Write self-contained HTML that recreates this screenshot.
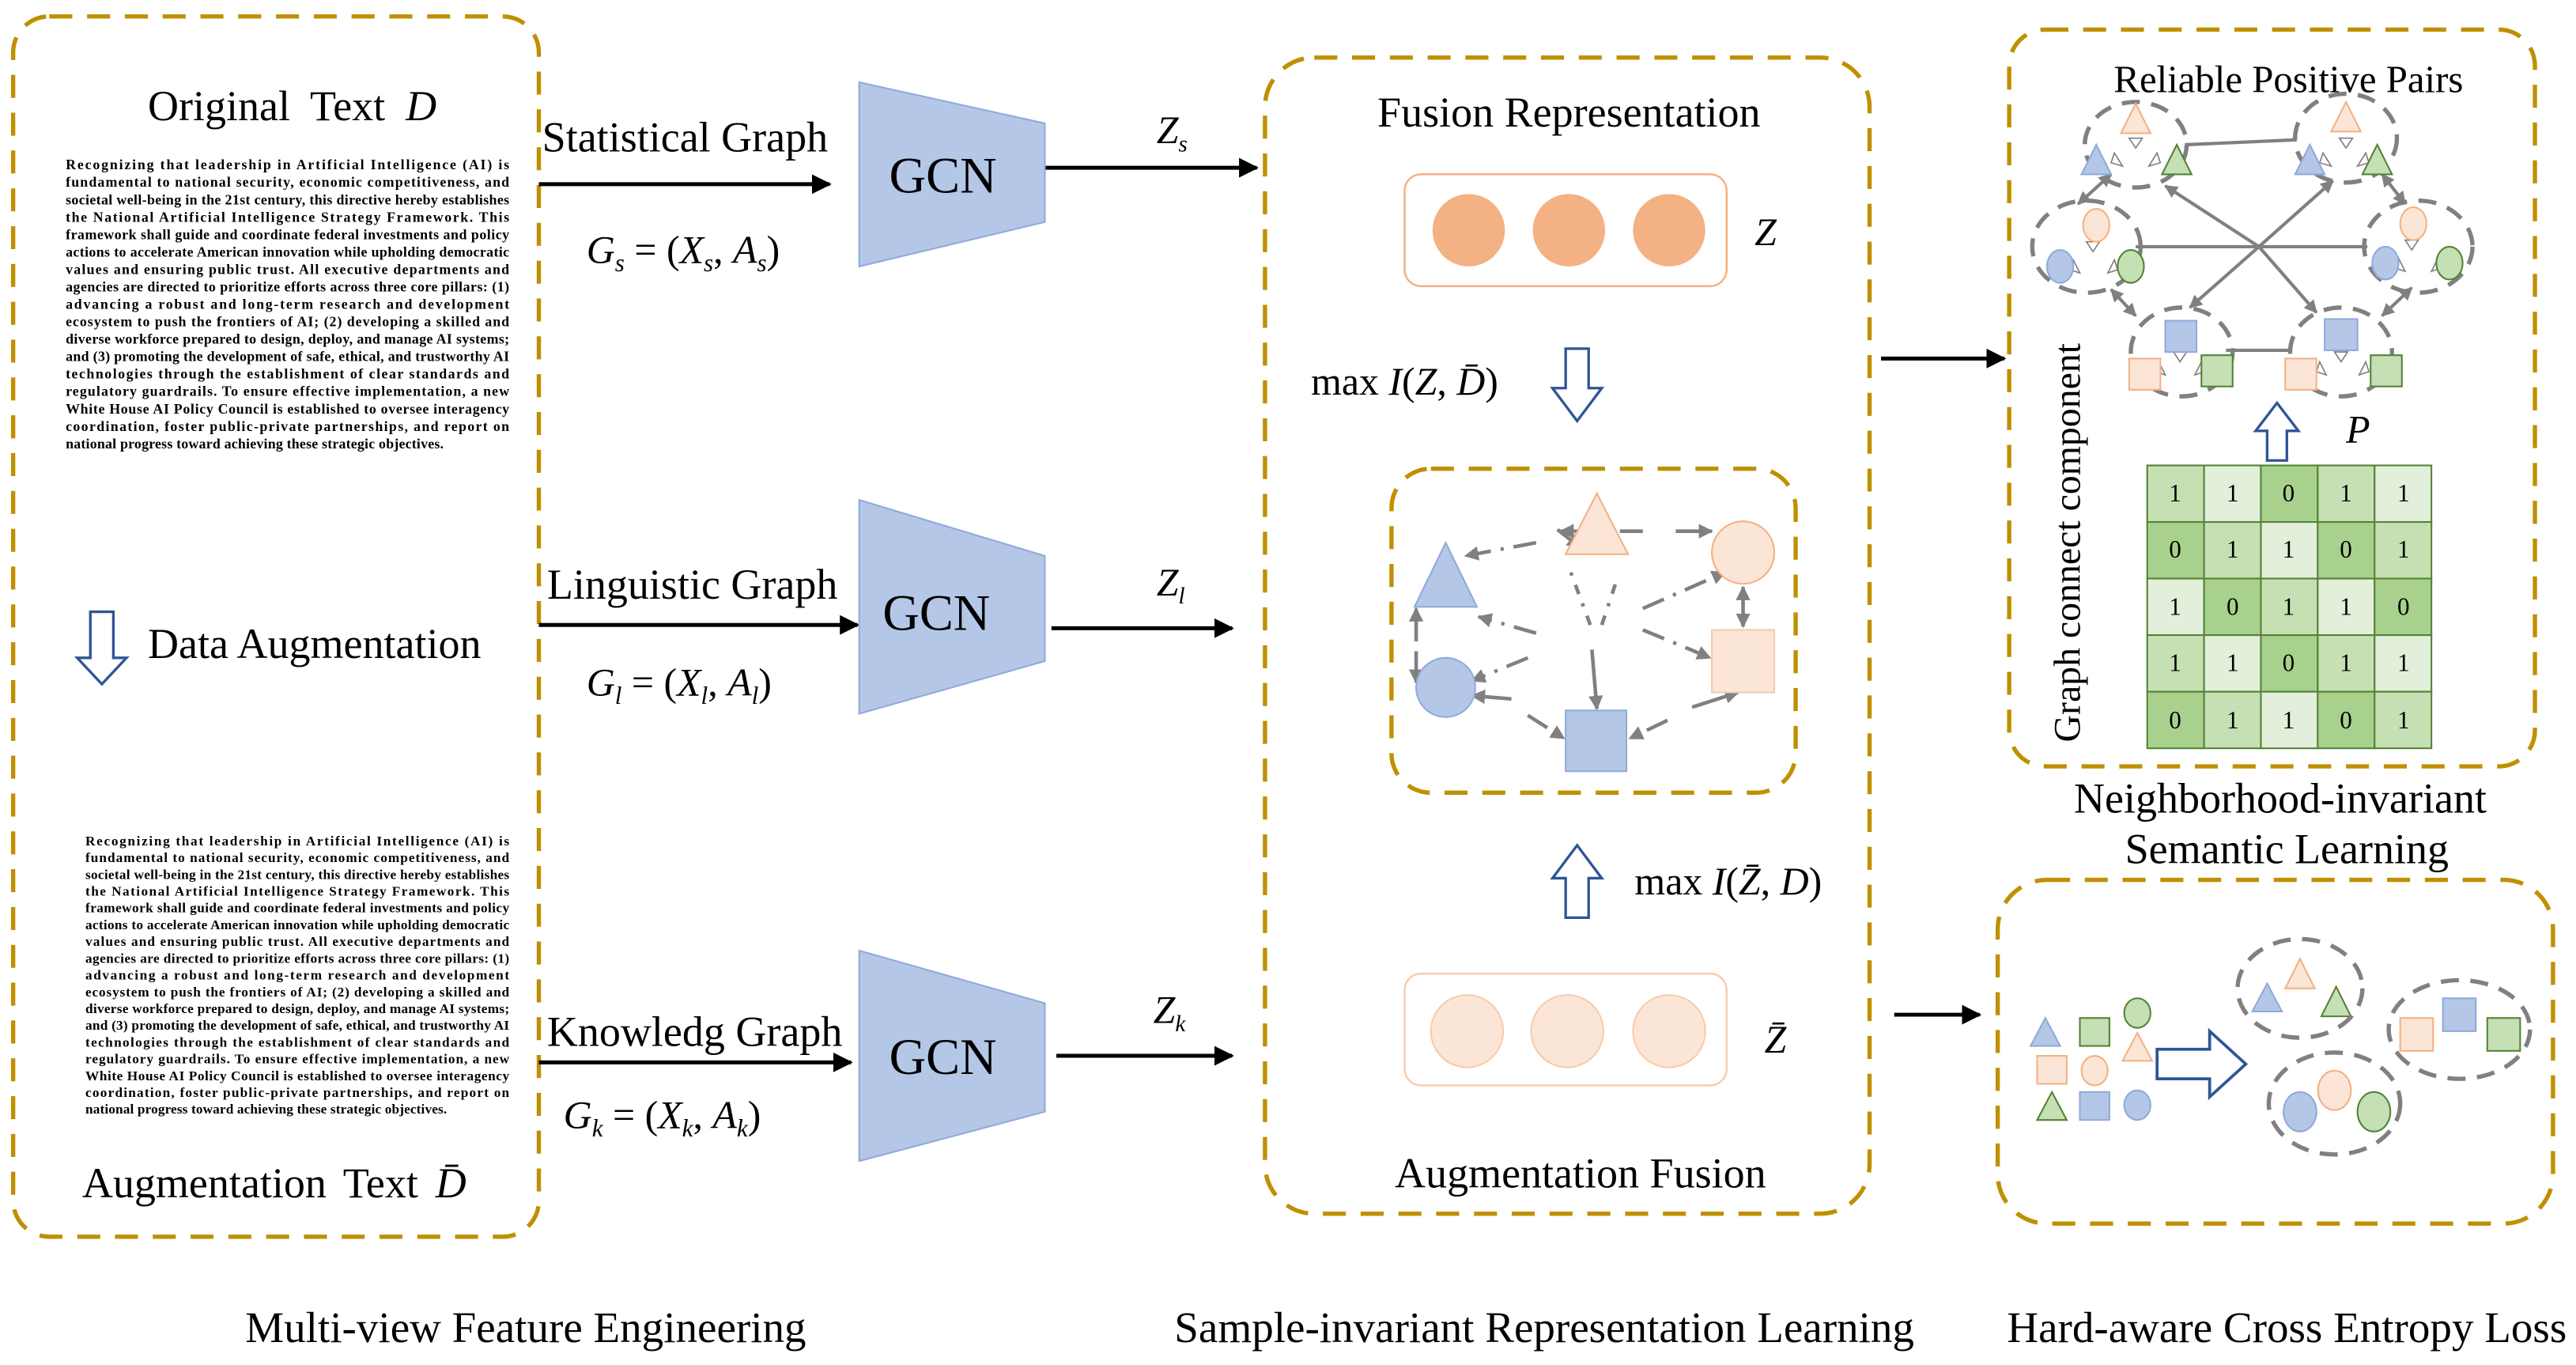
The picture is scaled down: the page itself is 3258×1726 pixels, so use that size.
<!DOCTYPE html>
<html><head><meta charset="utf-8"><style>
html,body{margin:0;padding:0;background:#fff;}
svg{display:block;}
text{font-family:"Liberation Serif",serif;}
</style></head><body>
<svg width="3258" height="1726" viewBox="0 0 1568 830" preserveAspectRatio="none" xmlns="http://www.w3.org/2000/svg">
<defs>
<marker id="ah" viewBox="0 0 10 10" refX="9" refY="5" markerWidth="5" markerHeight="5" orient="auto-start-reverse"><path d="M0,0 L10,5 L0,10 z" fill="#000"/></marker>
<marker id="gh" viewBox="0 0 10 10" refX="9" refY="5" markerWidth="4" markerHeight="4" orient="auto-start-reverse"><path d="M0,0 L10,5 L0,10 z" fill="#808080"/></marker>
</defs>
<g fill="none" stroke="#bf9000" stroke-width="2.6" stroke-dasharray="14 9">
<rect x="8" y="10" width="320" height="742" rx="22"/>
<rect x="770" y="35" width="368" height="703" rx="30"/>
<rect x="847" y="285" width="246" height="197" rx="24"/>
<rect x="1223" y="18" width="320" height="448" rx="22"/>
<rect x="1216" y="535" width="338" height="209" rx="30"/>
</g>

<!-- Left column -->
<text x="90" y="73" font-size="26" word-spacing="6">Original Text <tspan font-style="italic">D</tspan></text>
<g font-size="8.6" font-weight="bold">
<text x="40" y="103" textLength="270" lengthAdjust="spacing">Recognizing that leadership in Artificial Intelligence (AI) is</text>
<text x="40" y="113.6" textLength="270" lengthAdjust="spacing">fundamental to national security, economic competitiveness, and</text>
<text x="40" y="124.2" textLength="270" lengthAdjust="spacing">societal well-being in the 21st century, this directive hereby establishes</text>
<text x="40" y="134.8" textLength="270" lengthAdjust="spacing">the National Artificial Intelligence Strategy Framework. This</text>
<text x="40" y="145.4" textLength="270" lengthAdjust="spacing">framework shall guide and coordinate federal investments and policy</text>
<text x="40" y="156" textLength="270" lengthAdjust="spacing">actions to accelerate American innovation while upholding democratic</text>
<text x="40" y="166.6" textLength="270" lengthAdjust="spacing">values and ensuring public trust. All executive departments and</text>
<text x="40" y="177.2" textLength="270" lengthAdjust="spacing">agencies are directed to prioritize efforts across three core pillars: (1)</text>
<text x="40" y="187.8" textLength="270" lengthAdjust="spacing">advancing a robust and long-term research and development</text>
<text x="40" y="198.4" textLength="270" lengthAdjust="spacing">ecosystem to push the frontiers of AI; (2) developing a skilled and</text>
<text x="40" y="209" textLength="270" lengthAdjust="spacing">diverse workforce prepared to design, deploy, and manage AI systems;</text>
<text x="40" y="219.6" textLength="270" lengthAdjust="spacing">and (3) promoting the development of safe, ethical, and trustworthy AI</text>
<text x="40" y="230.2" textLength="270" lengthAdjust="spacing">technologies through the establishment of clear standards and</text>
<text x="40" y="240.8" textLength="270" lengthAdjust="spacing">regulatory guardrails. To ensure effective implementation, a new</text>
<text x="40" y="251.4" textLength="270" lengthAdjust="spacing">White House AI Policy Council is established to oversee interagency</text>
<text x="40" y="262" textLength="270" lengthAdjust="spacing">coordination, foster public-private partnerships, and report on</text>
<text x="40" y="272.6" textLength="230" lengthAdjust="spacing">national progress toward achieving these strategic objectives.</text>
</g>
<path d="M55,372 h14 v28 h8 l-15,16 l-15,-16 h8 z" fill="#fff" stroke="#2f5597" stroke-width="1.6"/>
<text x="90" y="400" font-size="26">Data Augmentation</text>
<g font-size="8.3" font-weight="bold">
<text x="52" y="514" textLength="258" lengthAdjust="spacing">Recognizing that leadership in Artificial Intelligence (AI) is</text>
<text x="52" y="524.2" textLength="258" lengthAdjust="spacing">fundamental to national security, economic competitiveness, and</text>
<text x="52" y="534.4" textLength="258" lengthAdjust="spacing">societal well-being in the 21st century, this directive hereby establishes</text>
<text x="52" y="544.6" textLength="258" lengthAdjust="spacing">the National Artificial Intelligence Strategy Framework. This</text>
<text x="52" y="554.8" textLength="258" lengthAdjust="spacing">framework shall guide and coordinate federal investments and policy</text>
<text x="52" y="565" textLength="258" lengthAdjust="spacing">actions to accelerate American innovation while upholding democratic</text>
<text x="52" y="575.2" textLength="258" lengthAdjust="spacing">values and ensuring public trust. All executive departments and</text>
<text x="52" y="585.4" textLength="258" lengthAdjust="spacing">agencies are directed to prioritize efforts across three core pillars: (1)</text>
<text x="52" y="595.6" textLength="258" lengthAdjust="spacing">advancing a robust and long-term research and development</text>
<text x="52" y="605.8" textLength="258" lengthAdjust="spacing">ecosystem to push the frontiers of AI; (2) developing a skilled and</text>
<text x="52" y="616" textLength="258" lengthAdjust="spacing">diverse workforce prepared to design, deploy, and manage AI systems;</text>
<text x="52" y="626.2" textLength="258" lengthAdjust="spacing">and (3) promoting the development of safe, ethical, and trustworthy AI</text>
<text x="52" y="636.4" textLength="258" lengthAdjust="spacing">technologies through the establishment of clear standards and</text>
<text x="52" y="646.6" textLength="258" lengthAdjust="spacing">regulatory guardrails. To ensure effective implementation, a new</text>
<text x="52" y="656.8" textLength="258" lengthAdjust="spacing">White House AI Policy Council is established to oversee interagency</text>
<text x="52" y="667" textLength="258" lengthAdjust="spacing">coordination, foster public-private partnerships, and report on</text>
<text x="52" y="677.2" textLength="220" lengthAdjust="spacing">national progress toward achieving these strategic objectives.</text>
</g>
<text x="50" y="728" font-size="26" word-spacing="4">Augmentation Text <tspan font-style="italic">D̄</tspan></text>

<!-- bottom labels -->
<g font-size="26.5" text-anchor="middle">
<text x="320" y="816">Multi-view Feature Engineering</text>
<text x="940" y="816">Sample-invariant Representation Learning</text>
<text x="1392" y="816">Hard-aware Cross Entropy Loss</text>
</g>

<!-- graph arrows -->
<g stroke="#000" stroke-width="2.4" marker-end="url(#ah)">
<line x1="328" y1="112" x2="505" y2="112"/>
<line x1="328" y1="380" x2="522" y2="380"/>
<line x1="328" y1="646" x2="518" y2="646"/>
<line x1="636" y1="102" x2="765" y2="102"/>
<line x1="640" y1="382" x2="750" y2="382"/>
<line x1="643" y1="642" x2="750" y2="642"/>
<line x1="1145" y1="218" x2="1220" y2="218"/>
<line x1="1153" y1="617" x2="1205" y2="617"/>
</g>
<g font-size="26">
<text x="330" y="92">Statistical Graph</text>
<text x="333" y="364">Linguistic Graph</text>
<text x="333" y="636">Knowledg Graph</text>
</g>
<g font-size="24" font-style="italic">
<text x="357" y="160">G<tspan font-size="15" dy="5">s</tspan><tspan dy="-5" font-style="normal"> = (</tspan>X<tspan font-size="15" dy="5">s</tspan><tspan dy="-5" font-style="normal">, </tspan>A<tspan font-size="15" dy="5">s</tspan><tspan dy="-5" font-style="normal">)</tspan></text>
<text x="357" y="423">G<tspan font-size="15" dy="5">l</tspan><tspan dy="-5" font-style="normal"> = (</tspan>X<tspan font-size="15" dy="5">l</tspan><tspan dy="-5" font-style="normal">, </tspan>A<tspan font-size="15" dy="5">l</tspan><tspan dy="-5" font-style="normal">)</tspan></text>
<text x="343" y="686">G<tspan font-size="15" dy="5">k</tspan><tspan dy="-5" font-style="normal"> = (</tspan>X<tspan font-size="15" dy="5">k</tspan><tspan dy="-5" font-style="normal">, </tspan>A<tspan font-size="15" dy="5">k</tspan><tspan dy="-5" font-style="normal">)</tspan></text>
<text x="704" y="87">Z<tspan font-size="14" dy="5">s</tspan></text>
<text x="704" y="362">Z<tspan font-size="14" dy="5">l</tspan></text>
<text x="702" y="622">Z<tspan font-size="14" dy="5">k</tspan></text>
</g>
<!-- GCNs -->
<g fill="#b4c7e7" stroke="#8faadc" stroke-width="1">
<polygon points="523,50 636,75 636,135 523,162"/>
<polygon points="523,304 636,338 636,402 523,434"/>
<polygon points="523,578 636,610 636,676 523,706"/>
</g>
<g font-size="31" text-anchor="middle">
<text x="574" y="117">GCN</text>
<text x="570" y="383">GCN</text>
<text x="574" y="653">GCN</text>
</g>

<!-- Middle box -->
<text x="955" y="77" font-size="26" text-anchor="middle">Fusion Representation</text>
<rect x="855" y="106" width="196" height="68" rx="10" fill="#fff" stroke="#f4b183" stroke-width="1.2"/>
<g fill="#f4b183"><circle cx="894" cy="140" r="22"/><circle cx="955" cy="140" r="22"/><circle cx="1016" cy="140" r="22"/></g>
<text x="1068" y="149" font-size="24" font-style="italic">Z</text>
<text x="798" y="240" font-size="24">max <tspan font-style="italic">I</tspan>(<tspan font-style="italic">Z</tspan>, <tspan font-style="italic">D̄</tspan>)</text>
<path d="M953,212 h14 v24 h8 l-15,20 l-15,-20 h8 z" fill="#fff" stroke="#2f5597" stroke-width="1.6"/>
<path d="M953,558 h14 v-24 h8 l-15,-20 l-15,20 h8 z" fill="#fff" stroke="#2f5597" stroke-width="1.6"/>
<text x="995" y="544" font-size="24">max <tspan font-style="italic">I</tspan>(<tspan font-style="italic">Z̄</tspan>, <tspan font-style="italic">D</tspan>)</text>
<rect x="855" y="592" width="196" height="68" rx="10" fill="#fff" stroke="#f8cbad" stroke-width="1.2"/>
<g fill="#fbe5d6" stroke="#f8cbad"><circle cx="893" cy="627" r="22"/><circle cx="954" cy="627" r="22"/><circle cx="1016" cy="627" r="22"/></g>
<text x="1074" y="640" font-size="24" font-style="italic">Z̄</text>
<text x="962" y="722" font-size="26" text-anchor="middle">Augmentation Fusion</text>

<!-- inner graph -->
<g stroke="#808080" stroke-width="2.2" fill="none" marker-end="url(#gh)">
<line x1="1000" y1="323" x2="950" y2="323" stroke-dasharray="14 6 2 6"/>
<line x1="1020" y1="323" x2="1042" y2="323"/>
<line x1="935" y1="330" x2="892" y2="338" stroke-dasharray="14 6 2 6"/>
<line x1="948" y1="322" x2="962" y2="333"/>
<line x1="935" y1="385" x2="900" y2="375" stroke-dasharray="14 6 2 6"/>
<line x1="1000" y1="370" x2="1050" y2="348" stroke-dasharray="14 6 2 6"/>
<line x1="1000" y1="383" x2="1041" y2="400" stroke-dasharray="14 6 2 6"/>
<line x1="930" y1="400" x2="896" y2="414" stroke-dasharray="14 6 2 6"/>
<line x1="920" y1="425" x2="896" y2="423"/>
<line x1="930" y1="435" x2="952" y2="449" stroke-dasharray="14 6 2 6"/>
<line x1="1015" y1="438" x2="992" y2="449" stroke-dasharray="14 6 2 6"/>
<line x1="1030" y1="430" x2="1058" y2="421"/>
<line x1="969" y1="395" x2="972" y2="431"/>
<line x1="1061" y1="357" x2="1061" y2="381" marker-start="url(#gh)"/>
<line x1="862" y1="390" x2="862" y2="370"/>
<line x1="862" y1="396" x2="862" y2="415"/>
<line x1="968" y1="380" x2="955" y2="345" stroke-dasharray="6 6 2 6" marker-end="none"/>
<line x1="975" y1="380" x2="985" y2="350" stroke-dasharray="6 6 2 6" marker-end="none"/>
</g>
<polygon points="880,330 861,369 899,369" fill="#b4c7e7" stroke="#8faadc"/>
<polygon points="972,300 953,337 991,337" fill="#fbe5d6" stroke="#f4b183"/>
<circle cx="1061" cy="336" r="19" fill="#fbe5d6" stroke="#f4b183"/>
<rect x="1042" y="383" width="38" height="38" fill="#fbe5d6" stroke="#f8cbad"/>
<circle cx="880" cy="418" r="18" fill="#b4c7e7" stroke="#8faadc"/>
<rect x="953" y="432" width="37" height="37" fill="#b4c7e7" stroke="#8faadc"/>

<!-- Right top -->
<text x="1393" y="56" font-size="23.5" text-anchor="middle">Reliable Positive Pairs</text>
<text transform="translate(1266,330) rotate(-90)" font-size="23" text-anchor="middle">Graph connect component</text>
<g stroke="#808080" stroke-width="2" fill="none">
<line x1="1330" y1="88" x2="1398" y2="85"/>
<line x1="1300" y1="150" x2="1441" y2="150"/>
<line x1="1355" y1="213" x2="1395" y2="213"/>
<line x1="1375" y1="150" x2="1318" y2="113" marker-end="url(#gh)"/>
<line x1="1375" y1="150" x2="1420" y2="110" marker-end="url(#gh)"/>
<line x1="1375" y1="150" x2="1333" y2="187" marker-end="url(#gh)"/>
<line x1="1375" y1="150" x2="1410" y2="190" marker-end="url(#gh)"/>
<line x1="1265" y1="124" x2="1285" y2="106" marker-end="url(#gh)" marker-start="url(#gh)"/>
<line x1="1450" y1="106" x2="1464" y2="124" marker-end="url(#gh)" marker-start="url(#gh)"/>
<line x1="1285" y1="176" x2="1300" y2="192" marker-end="url(#gh)" marker-start="url(#gh)"/>
<line x1="1468" y1="175" x2="1450" y2="192" marker-end="url(#gh)" marker-start="url(#gh)"/>
</g>
<g fill="none" stroke="#808080" stroke-width="2.6" stroke-dasharray="11 7">
<ellipse cx="1300" cy="88" rx="31" ry="26"/>
<ellipse cx="1428" cy="84" rx="31" ry="27"/>
<ellipse cx="1270" cy="150" rx="33" ry="28"/>
<ellipse cx="1472" cy="150" rx="33" ry="28"/>
<ellipse cx="1328" cy="214" rx="31" ry="27"/>
<ellipse cx="1425" cy="214" rx="31" ry="27"/>
</g>
<g stroke="#808080" stroke-width="0.8" fill="#fff">
<polygon points="1296,84 1304,84 1300,90"/><polygon points="1287,93 1292,101 1285,99"/><polygon points="1313,93 1308,101 1315,99"/>
<polygon points="1424,84 1432,84 1428,90"/><polygon points="1414,93 1419,101 1412,99"/><polygon points="1440,93 1435,101 1442,99"/>
<polygon points="1270,147 1278,147 1274,153"/><polygon points="1262,158 1266,166 1260,164"/><polygon points="1287,158 1283,166 1289,164"/>
<polygon points="1464,146 1472,146 1468,152"/><polygon points="1460,157 1464,165 1458,163"/><polygon points="1484,157 1480,165 1486,163"/>
<polygon points="1323,214 1331,214 1327,220"/><polygon points="1314,220 1318,228 1312,226"/><polygon points="1340,220 1336,228 1342,226"/>
<polygon points="1421,214 1429,214 1425,220"/><polygon points="1412,220 1416,228 1410,226"/><polygon points="1440,220 1436,228 1442,226"/>
</g>
<g stroke-width="1">
<polygon points="1300,63 1291,81 1309,81" fill="#fbe5d6" stroke="#f4b183"/>
<polygon points="1276,88 1267,106 1285,106" fill="#b4c7e7" stroke="#8faadc"/>
<polygon points="1325,88 1316,106 1334,106" fill="#c5e0b4" stroke="#548235"/>
<polygon points="1428,62 1419,80 1437,80" fill="#fbe5d6" stroke="#f4b183"/>
<polygon points="1406,88 1397,106 1415,106" fill="#b4c7e7" stroke="#8faadc"/>
<polygon points="1447,88 1438,106 1456,106" fill="#c5e0b4" stroke="#548235"/>
<ellipse cx="1276" cy="137" rx="8" ry="10" fill="#fbe5d6" stroke="#f4b183"/>
<ellipse cx="1254" cy="162" rx="8" ry="10" fill="#b4c7e7" stroke="#8faadc"/>
<ellipse cx="1297" cy="162" rx="8" ry="10" fill="#c5e0b4" stroke="#548235"/>
<ellipse cx="1469" cy="136" rx="8" ry="10" fill="#fbe5d6" stroke="#f4b183"/>
<ellipse cx="1452" cy="160" rx="8" ry="10" fill="#b4c7e7" stroke="#8faadc"/>
<ellipse cx="1491" cy="160" rx="8" ry="10" fill="#c5e0b4" stroke="#548235"/>
<rect x="1318" y="195" width="19" height="19" fill="#b4c7e7" stroke="#8faadc"/>
<rect x="1296" y="218" width="19" height="19" fill="#fbe5d6" stroke="#f4b183"/>
<rect x="1340" y="216" width="19" height="19" fill="#c5e0b4" stroke="#548235"/>
<rect x="1415" y="194" width="20" height="19" fill="#b4c7e7" stroke="#8faadc"/>
<rect x="1391" y="218" width="19" height="19" fill="#fbe5d6" stroke="#f4b183"/>
<rect x="1443" y="216" width="19" height="19" fill="#c5e0b4" stroke="#548235"/>
</g>
<path d="M1380,280 h12 v-18 h7 l-13,-17 l-13,17 h7 z" fill="#fff" stroke="#2f5597" stroke-width="1.6"/>
<text x="1428" y="269" font-size="24" font-style="italic">P</text>
<!-- matrix -->
<g stroke="#548235" stroke-width="1">
<rect x="1307" y="283" width="34.6" height="34.4" fill="#c6e0b4"/><rect x="1341.6" y="283" width="34.6" height="34.4" fill="#e2efda"/><rect x="1376.2" y="283" width="34.6" height="34.4" fill="#a9d18e"/><rect x="1410.8" y="283" width="34.6" height="34.4" fill="#c6e0b4"/><rect x="1445.4" y="283" width="34.6" height="34.4" fill="#e2efda"/>
<rect x="1307" y="317.4" width="34.6" height="34.4" fill="#a9d18e"/><rect x="1341.6" y="317.4" width="34.6" height="34.4" fill="#c6e0b4"/><rect x="1376.2" y="317.4" width="34.6" height="34.4" fill="#e2efda"/><rect x="1410.8" y="317.4" width="34.6" height="34.4" fill="#a9d18e"/><rect x="1445.4" y="317.4" width="34.6" height="34.4" fill="#c6e0b4"/>
<rect x="1307" y="351.8" width="34.6" height="34.4" fill="#e2efda"/><rect x="1341.6" y="351.8" width="34.6" height="34.4" fill="#a9d18e"/><rect x="1376.2" y="351.8" width="34.6" height="34.4" fill="#c6e0b4"/><rect x="1410.8" y="351.8" width="34.6" height="34.4" fill="#e2efda"/><rect x="1445.4" y="351.8" width="34.6" height="34.4" fill="#a9d18e"/>
<rect x="1307" y="386.2" width="34.6" height="34.4" fill="#c6e0b4"/><rect x="1341.6" y="386.2" width="34.6" height="34.4" fill="#e2efda"/><rect x="1376.2" y="386.2" width="34.6" height="34.4" fill="#a9d18e"/><rect x="1410.8" y="386.2" width="34.6" height="34.4" fill="#c6e0b4"/><rect x="1445.4" y="386.2" width="34.6" height="34.4" fill="#e2efda"/>
<rect x="1307" y="420.6" width="34.6" height="34.4" fill="#a9d18e"/><rect x="1341.6" y="420.6" width="34.6" height="34.4" fill="#c6e0b4"/><rect x="1376.2" y="420.6" width="34.6" height="34.4" fill="#e2efda"/><rect x="1410.8" y="420.6" width="34.6" height="34.4" fill="#a9d18e"/><rect x="1445.4" y="420.6" width="34.6" height="34.4" fill="#c6e0b4"/>
</g>
<g font-size="15" text-anchor="middle" style="font-family:'Liberation Sans',sans-serif">
<text x="1324" y="305">1</text><text x="1359" y="305">1</text><text x="1393" y="305">0</text><text x="1428" y="305">1</text><text x="1463" y="305">1</text>
<text x="1324" y="339">0</text><text x="1359" y="339">1</text><text x="1393" y="339">1</text><text x="1428" y="339">0</text><text x="1463" y="339">1</text>
<text x="1324" y="374">1</text><text x="1359" y="374">0</text><text x="1393" y="374">1</text><text x="1428" y="374">1</text><text x="1463" y="374">0</text>
<text x="1324" y="408">1</text><text x="1359" y="408">1</text><text x="1393" y="408">0</text><text x="1428" y="408">1</text><text x="1463" y="408">1</text>
<text x="1324" y="443">0</text><text x="1359" y="443">1</text><text x="1393" y="443">1</text><text x="1428" y="443">0</text><text x="1463" y="443">1</text>
</g>
<text x="1388" y="494" font-size="26" text-anchor="middle">Neighborhood-invariant</text>
<text x="1392" y="525" font-size="26" text-anchor="middle">Semantic Learning</text>

<!-- Right bottom -->
<g stroke-width="1">
<polygon points="1245,619 1236,636 1254,636" fill="#b4c7e7" stroke="#8faadc"/>
<rect x="1266" y="619" width="18" height="17" fill="#c5e0b4" stroke="#548235"/>
<ellipse cx="1301" cy="616" rx="8" ry="9" fill="#c5e0b4" stroke="#548235"/>
<rect x="1240" y="642" width="18" height="17" fill="#fbe5d6" stroke="#f4b183"/>
<ellipse cx="1275" cy="651" rx="8" ry="9" fill="#fbe5d6" stroke="#f4b183"/>
<polygon points="1301,628 1292,645 1310,645" fill="#fbe5d6" stroke="#f4b183"/>
<polygon points="1249,664 1240,681 1258,681" fill="#c5e0b4" stroke="#548235"/>
<rect x="1266" y="664" width="18" height="17" fill="#b4c7e7" stroke="#8faadc"/>
<ellipse cx="1301" cy="672" rx="8" ry="9" fill="#b4c7e7" stroke="#8faadc"/>
<polygon points="1380,598 1371,615 1389,615" fill="#b4c7e7" stroke="#8faadc"/>
<polygon points="1400,583 1391,601 1409,601" fill="#fbe5d6" stroke="#f4b183"/>
<polygon points="1422,600 1413,618 1431,618" fill="#c5e0b4" stroke="#548235"/>
<rect x="1461" y="619" width="20" height="20" fill="#fbe5d6" stroke="#f4b183"/>
<rect x="1487" y="607" width="20" height="20" fill="#b4c7e7" stroke="#8faadc"/>
<rect x="1514" y="619" width="20" height="20" fill="#c5e0b4" stroke="#548235"/>
<ellipse cx="1400" cy="676" rx="10" ry="12" fill="#b4c7e7" stroke="#8faadc"/>
<ellipse cx="1421" cy="663" rx="10" ry="12" fill="#fbe5d6" stroke="#f4b183"/>
<ellipse cx="1445" cy="676" rx="10" ry="12" fill="#c5e0b4" stroke="#548235"/>
</g>
<path d="M1313,641 h32 v-11 l22,20 l-22,20 v-11 h-32 z" fill="#fff" stroke="#2f5597" stroke-width="1.8" transform="translate(0,-3)"/>
<g fill="none" stroke="#808080" stroke-width="2.6" stroke-dasharray="11 7">
<ellipse cx="1400" cy="601" rx="38" ry="30"/>
<ellipse cx="1497" cy="626" rx="43" ry="30"/>
<ellipse cx="1421" cy="671" rx="40" ry="31"/>
</g>
</svg>
</body></html>
